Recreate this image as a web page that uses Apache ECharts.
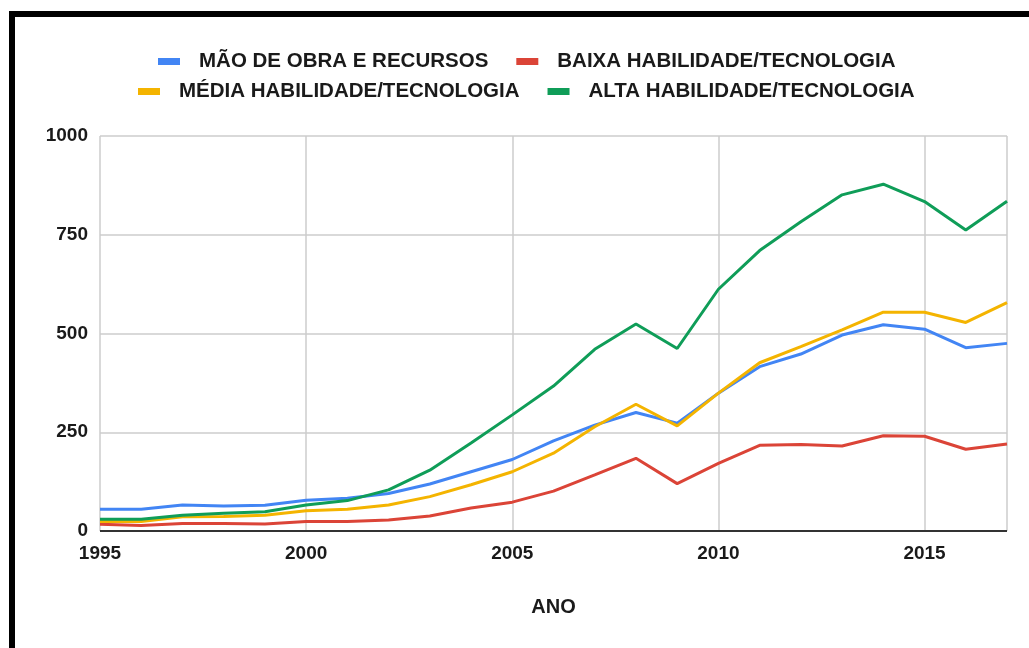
<!DOCTYPE html>
<html>
<head>
<meta charset="utf-8">
<script src="https://cdn.jsdelivr.net/npm/echarts@6/dist/echarts.min.js"></script>
<style>
  html, body { margin: 0; padding: 0; background: #fff; }
  #chart { width: 1029px; height: 648px; }
  /* moldura preta (só topo e esquerda aparecem no recorte) */
  .frame {
    position: absolute; left: 9px; top: 11px; width: 1100px; height: 700px;
    border-left: 6px solid #000; border-top: 6px solid #000;
    pointer-events: none;
  }
</style>
</head>
<body>
<div id="chart"></div>
<div class="frame"></div>
<script>
// anos do eixo x
const anos = [1995, 1996, 1997, 1998, 1999, 2000, 2001, 2002, 2003, 2004, 2005, 2006,
  2007, 2008, 2009, 2010, 2011, 2012, 2013, 2014, 2015, 2016, 2017];

const nomes = [
  "MÃO DE OBRA E RECURSOS",
  "BAIXA HABILIDADE/TECNOLOGIA",
  "MÉDIA HABILIDADE/TECNOLOGIA",
  "ALTA HABILIDADE/TECNOLOGIA",
];

const maoDeObra = [55, 55, 66, 63, 65, 78, 83, 95, 119, 150, 181, 228,
  268, 300, 273, 349, 416, 448, 496, 522, 511, 464, 475];
const baixa = [17, 14, 19, 19, 18, 24, 24, 28, 38, 58, 73, 101,
  142, 184, 120, 171, 217, 219, 215, 241, 240, 207, 220];
const media = [24, 24, 36, 37, 40, 51, 55, 66, 87, 117, 150, 197,
  264, 321, 266, 349, 426, 467, 509, 554, 554, 528, 578];
const alta = [30, 30, 40, 45, 49, 66, 77, 104, 154, 223, 294, 367,
  460, 524, 462, 612, 710, 783, 851, 878, 834, 762, 835];

const cores = ["#4285F4", "#DB4437", "#F4B400", "#0F9D58"];

const pares = (vals) => anos.map((a, i) => [a, vals[i]]);

const chart = echarts.init(document.getElementById("chart"));

const estiloLegenda = {
  padding: 0,
  icon: "rect",
  itemWidth: 22,
  itemHeight: 7,
  itemGap: 28,
  textStyle: {
    fontFamily: "Liberation Sans",
    fontWeight: "bold",
    fontSize: 20.5,
    color: "#1a1a1a",
    padding: [0, 0, 0, 14],
  },
};

chart.setOption({
  animation: false,
  color: cores,
  textStyle: { fontFamily: "Liberation Sans" },
  legend: [
    Object.assign({ left: 158, top: 51, data: [nomes[0], nomes[1]] }, estiloLegenda),
    Object.assign({ left: 138, top: 81, data: [nomes[2], nomes[3]] }, estiloLegenda),
  ],
  grid: { left: 100, right: 22, top: 136, bottom: 117, containLabel: false },
  xAxis: {
    type: "value",
    min: 1995,
    max: 2017,
    interval: 5,
    name: "ANO",
    nameLocation: "middle",
    nameGap: 66,
    nameTextStyle: { fontWeight: "bold", fontSize: 20, color: "#1a1a1a" },
    axisLine: { show: false },
    axisTick: { show: false },
    axisLabel: {
      fontWeight: "bold", fontSize: 19, color: "#1a1a1a", margin: 13,
      showMaxLabel: false,
      formatter: (v) => String(v),
    },
    splitLine: { show: true, lineStyle: { color: "#cccccc", width: 1.5 } },
  },
  yAxis: {
    type: "value",
    min: 0,
    max: 1000,
    interval: 250,
    axisLine: { show: false },
    axisTick: { show: false },
    axisLabel: {
      fontWeight: "bold", fontSize: 19, color: "#1a1a1a", margin: 12,
      formatter: (v) => String(v),
    },
    splitLine: { lineStyle: { color: "#cccccc", width: 1.5 } },
  },
  series: [
    { name: nomes[0], data: pares(maoDeObra) },
    { name: nomes[1], data: pares(baixa) },
    { name: nomes[2], data: pares(media) },
    { name: nomes[3], data: pares(alta) },
  ].map((s) => Object.assign({
    type: "line",
    showSymbol: false,
    lineStyle: { width: 3 },
  }, s)).concat([{
    // linha de base em zero
    type: "line",
    data: [[1995, 0], [2017, 0]],
    showSymbol: false,
    silent: true,
    lineStyle: { color: "#333", width: 2 },
    z: 1,
  }]),
});
</script>
</body>
</html>
